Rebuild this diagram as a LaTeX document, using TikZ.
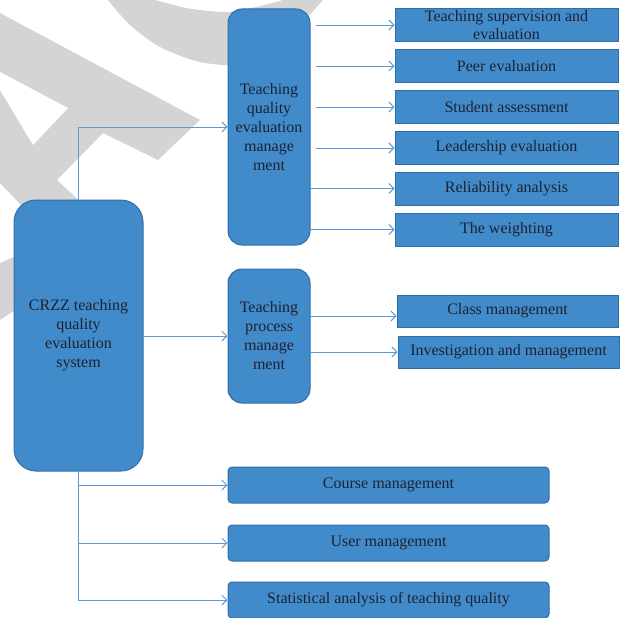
\documentclass[tikz,border=0pt]{standalone}
\usepackage{fontspec}
\setmainfont{Liberation Serif}
\usetikzlibrary{arrows.meta}
\definecolor{boxfill}{HTML}{418BCB}
\definecolor{boxline}{HTML}{2F6EA8}
\definecolor{conn}{HTML}{5B9BD5}
\definecolor{txt}{HTML}{1E2230}
\definecolor{wm}{HTML}{D4D4D4}
\begin{document}
\begin{tikzpicture}[x=1pt,y=-1pt,
  box/.style={draw=boxline, fill=boxfill, line width=1pt, text=txt,
    font=\fontsize{16}{19}\selectfont, align=center, inner sep=0pt},
  rbox/.style={box, minimum width=223pt, minimum height=33pt},
  tallbox/.style={box, rounded corners=14pt, minimum width=82pt},
  widebox/.style={box, rounded corners=4pt, minimum width=321pt, minimum height=36pt},
  arr/.style={draw=conn, line width=0.9pt, -{Straight Barb[length=5pt,width=10pt]}}]
\useasboundingbox (0,0) rectangle (621,618);
% watermark
\fill[wm] (0,13) -- (200,120) -- (158,160) -- (103,133) -- (57,180) -- (100,220) -- (40,225) -- (0,183) -- cycle;
\fill[white] (0,72) -- (68,108) -- (33,145) -- (0,90) -- cycle;
\fill[wm] (0,263) -- (30,250) -- (30,300) -- (0,320) -- cycle;
\fill[wm] plot[smooth] coordinates {(108,0) (130,25) (160,47) (200,62) (240,64) (280,45) (323,0)}
  -- plot[smooth] coordinates {(283,0) (260,6) (228,12) (192,9) (170,4) (155,0)} -- cycle;
% nodes
\node[box, rounded corners=22pt, minimum width=129pt, minimum height=271pt] (crzz) at (78.5,335.5)
  {CRZZ teaching\\quality\\evaluation\\system};
\node[tallbox, minimum height=236pt] (tqem) at (269,127)
  {Teaching\\quality\\evaluation\\manage\\ment};
\node[tallbox, minimum height=134pt] (tpm) at (269,336)
  {Teaching\\process\\manage\\ment};
\node[rbox, font=\fontsize{16}{17.5}\selectfont] (b1) at (506.5,25) {Teaching supervision and\\evaluation};
\node[rbox] (b2) at (506.5,66) {Peer evaluation};
\node[rbox] (b3) at (506.5,107) {Student assessment};
\node[rbox] (b4) at (506.5,148) {Leadership evaluation};
\node[rbox] (b5) at (506.5,188.5) {Reliability analysis};
\node[rbox] (b6) at (506.5,229.5) {The weighting};
\node[box, minimum width=221pt, minimum height=32pt] (cm) at (507.5,311) {Class management};
\node[box, minimum width=221pt, minimum height=32pt] (inv) at (508.5,352) {Investigation and management};
\node[widebox] (course) at (388.5,485) {Course management};
\node[widebox] (user) at (388.5,543) {User management};
\node[widebox] (stat) at (388.5,600) {Statistical analysis of teaching quality};
% connectors
\coordinate (t1) at ([xshift=5pt]tqem.east);
\draw[arr] (t1 |- b1.west) -- (b1.west);
\draw[arr] (t1 |- b2.west) -- (b2.west);
\draw[arr] (t1 |- b3.west) -- (b3.west);
\draw[arr] (t1 |- b4.west) -- (b4.west);
\draw[arr] (tqem.east |- b5.west) -- (b5.west);
\draw[arr] (tqem.east |- b6.west) -- (b6.west);
\coordinate (c1) at ([yshift=-5pt]cm.west);
\draw[arr] (tpm.east |- c1) -- (c1);
\draw[arr] (tpm.east |- inv.west) -- (inv.west);
\draw[arr] (crzz.east |- tpm.west) -- (tpm.west);
\draw[arr] (crzz.north) |- (tqem.west);
\draw[arr] (crzz.south) |- (course.west);
\draw[arr] (crzz.south) |- (user.west);
\draw[arr] (crzz.south) |- (stat.west);
\end{tikzpicture}
\end{document}
